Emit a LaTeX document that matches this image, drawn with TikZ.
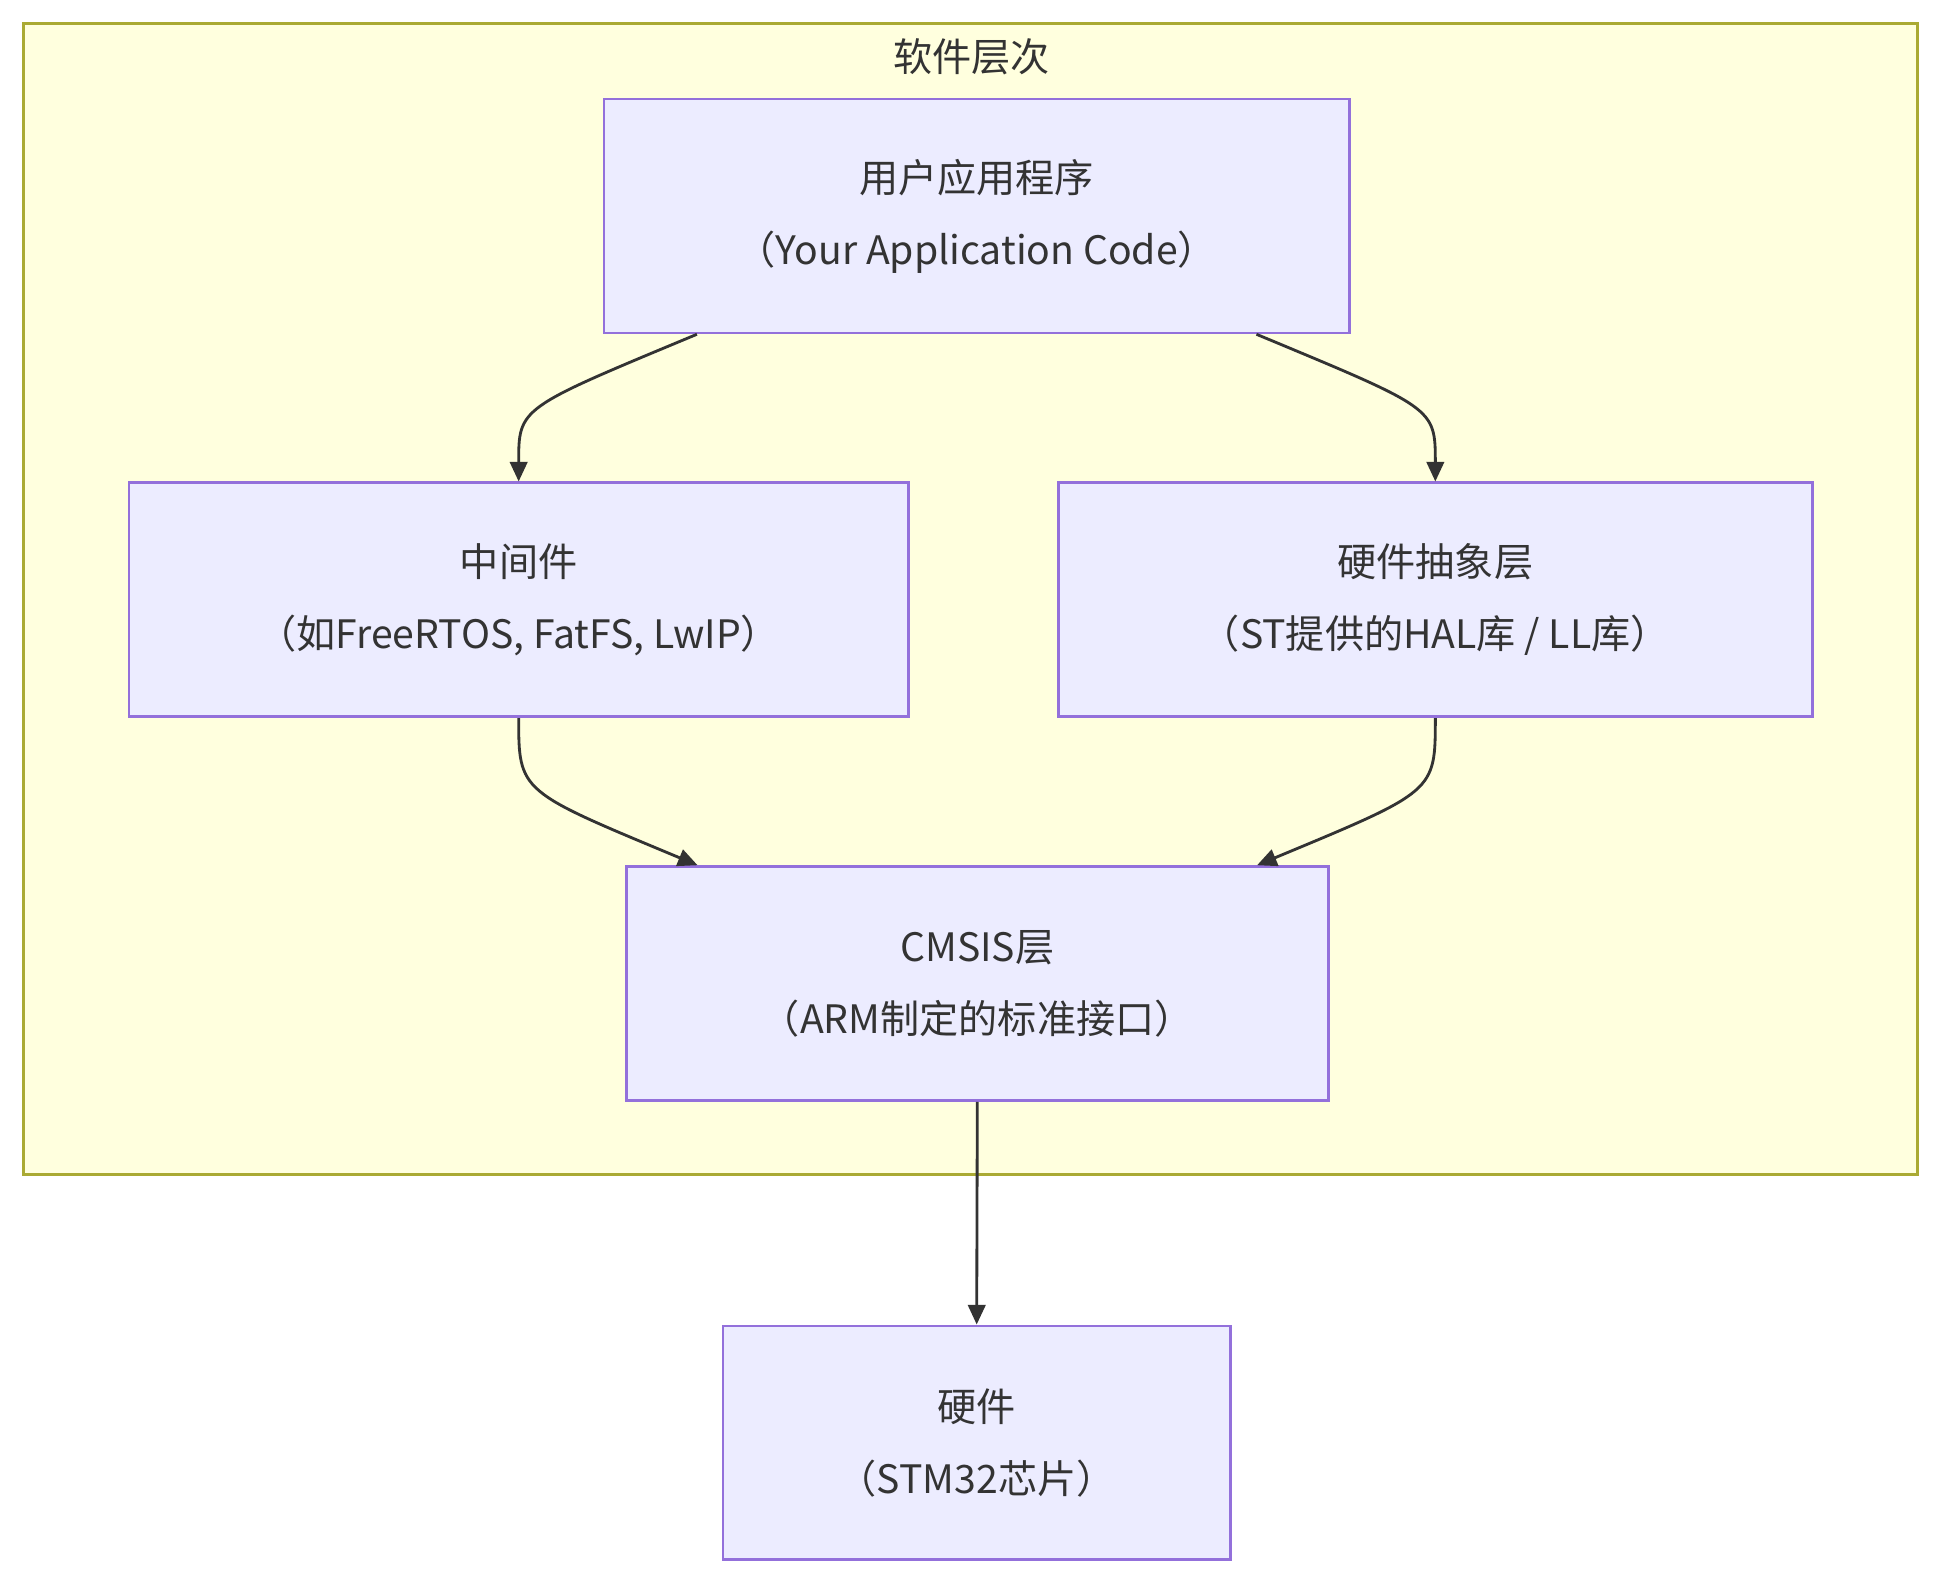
\documentclass[tikz,border=0pt]{standalone}
\usepackage{fontspec}
\setmainfont{Noto Sans CJK SC}
\usetikzlibrary{arrows.meta,calc}
\definecolor{boxfill}{HTML}{ECECFF}
\definecolor{boxline}{HTML}{9370DB}
\definecolor{grpfill}{HTML}{FFFFDE}
\definecolor{grpline}{HTML}{AAAA33}
\definecolor{ink}{HTML}{333333}
\tikzset{
  layer/.style={draw=boxline, fill=boxfill, line width=1.2pt, text=ink,
    align=center, inner sep=0pt, minimum height=3.78cm,
    font=\fontsize{18}{33}\selectfont},
  arr/.style={draw=ink, line width=1.3pt, -{Triangle[length=9pt,width=8pt]}}
}
\begin{document}
\begin{tikzpicture}[x=0.02cm, y=-0.02cm]
	\useasboundingbox (0,0) rectangle (1568,1280);
	% group
	\draw[fill=grpfill, draw=grpline, line width=1.2pt] (19,19) rectangle (1549,949);
	\node (title) at (785,46) {\fontsize{18}{20}\selectfont\color{ink}软件层次};
	% layers
	\node[layer, minimum width=12.04cm] (app) at (789,174.5) {用户应用程序\\（Your Application Code）};
	\node[layer, minimum width=12.6cm] (mid) at (419,484.5) {中间件\\（如FreeRTOS, FatFS, LwIP）};
	\node[layer, minimum width=12.18cm] (hal) at (1159.5,484.5) {硬件抽象层\\（ST提供的HAL库 / LL库）};
	\node[layer, minimum width=11.34cm] (cmsis) at (789.5,794.5) {CMSIS层\\（ARM制定的标准接口）};
	\node[layer, minimum width=8.2cm] (hw) at (789,1165.5) {硬件\\（STM32芯片）};
	% connectors
	\coordinate (a1) at ($(app.south)+(-226,0)$);
	\coordinate (a2) at ($(app.south)+(226,0)$);
	\coordinate (c1) at ($(cmsis.north)+(-226,0)$);
	\coordinate (c2) at ($(cmsis.north)+(226,0)$);
	\draw[arr] (a1) .. controls ($(a1)+(-144,60)$) and ($(mid.north)+(0,-60)$) .. (mid.north);
	\draw[arr] (a2) .. controls ($(a2)+(144,60)$) and ($(hal.north)+(0,-60)$) .. (hal.north);
	\draw[arr] (mid.south) .. controls ($(mid.south)+(0,60)$) and ($(c1)+(-144,-60)$) .. (c1);
	\draw[arr] (hal.south) .. controls ($(hal.south)+(0,60)$) and ($(c2)+(144,-60)$) .. (c2);
	\draw[arr] (cmsis.south) -- (hw.north);
\end{tikzpicture}
\end{document}
